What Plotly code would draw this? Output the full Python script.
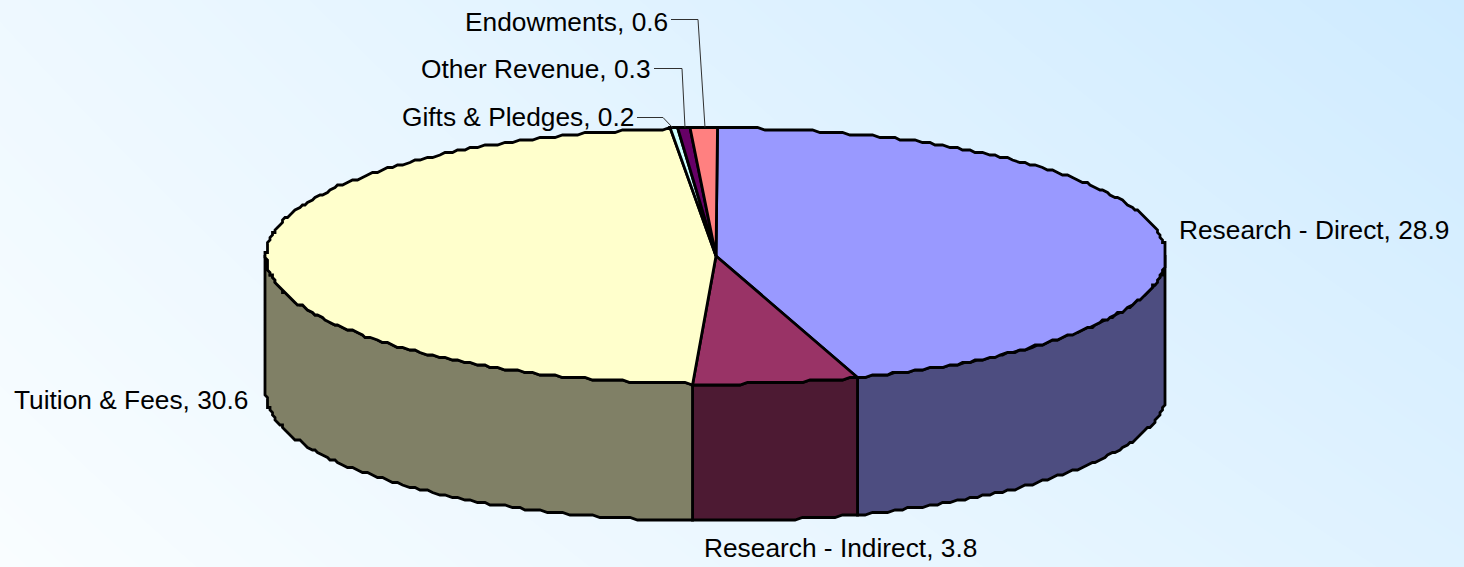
import math
import numpy as np
import plotly.graph_objects as go

# ---- data ----
categories = ["Research - Direct", "Research - Indirect", "Tuition & Fees",
              "Gifts & Pledges", "Other Revenue", "Endowments"]
values = [28.9, 3.8, 30.6, 0.2, 0.3, 0.6]

# ---- styles ----
top_colors = ["#9999FF", "#993366", "#FFFFCC", "#CCFFFF", "#660066", "#FF8080"]
wall_colors = ["#4D4D80", "#4D1A33", "#808066", "#668080", "#330033", "#804040"]
W, H = 1464, 567
CX, CY, RX, RY, DEPTH = 716, 256, 450, 128, 137
ROTATION = 0.2
SNAP = 2.5
FONT = dict(family="Liberation Sans, Arial, sans-serif", size=26.3, color="#000000")
LABEL_POS = [(1179, 230, "left"), (704, 548, "left"), (248, 400, "right"),
             (634, 117, "right"), (651, 69, "right"), (668, 22, "right")]
LEADER_ELBOW = {3: (637, 663, 117.5), 4: (654, 682, 68.5), 5: (671, 698, 19.5)}


def pt(deg, dy=0.0):
    a = math.radians(deg)
    x = CX + RX * math.sin(a)
    y = CY - RY * math.cos(a) + dy
    return round(x / SNAP) * SNAP, round(y / SNAP) * SNAP


def arc(a0, a1, dy=0.0):
    n = max(2, int(abs(a1 - a0) / 1.0) + 1)
    return [pt(a, dy) for a in np.linspace(a0, a1, n)]


total = sum(values)
edges = [ROTATION]
for v in values:
    edges.append(edges[-1] + v / total * 360)

fig = go.Figure()

# background gradient
gx = [0, W]
gy = [0, H]
fig.add_trace(go.Heatmap(
    x=gx, y=gy, z=[[0.26, 1.0], [0.0, 0.62]], zsmooth="best", showscale=False,
    hoverinfo="skip", zmin=0, zmax=1,
    colorscale=[[0, "#F9FDFF"], [1, "#CFEBFF"]],
))

# front walls
for i in range(len(values)):
    a0, a1 = max(edges[i], 90), min(edges[i + 1], 270)
    if a1 <= a0:
        continue
    upper = arc(a0, a1)
    lower = arc(a1, a0, DEPTH)
    poly = upper + lower + [upper[0]]
    fig.add_trace(go.Scatter(
        x=[p[0] for p in poly], y=[p[1] for p in poly], mode="lines",
        fill="toself", fillcolor=wall_colors[i], hoverinfo="skip",
        line=dict(color="#000000", width=2.8, simplify=False),
    ))

# top faces
for i in range(len(values)):
    poly = [(CX, CY)] + arc(edges[i], edges[i + 1]) + [(CX, CY)]
    fig.add_trace(go.Scatter(
        x=[p[0] for p in poly], y=[p[1] for p in poly], mode="lines",
        fill="toself", fillcolor=top_colors[i], hoverinfo="skip",
        line=dict(color="#000000", width=2.8, simplify=False),
    ))

# leader lines
for i, (x0, x1, y) in LEADER_ELBOW.items():
    mid = (edges[i] + edges[i + 1]) / 2
    ex, ey = pt(mid)
    fig.add_trace(go.Scatter(
        x=[x0, x1, ex], y=[y, y, ey], mode="lines", hoverinfo="skip",
        line=dict(color="#303030", width=1),
    ))

# labels
for (c, v, (x, y, anchor)) in zip(categories, values, LABEL_POS):
    fig.add_annotation(x=x, y=y, text=f"{c}, {v}", showarrow=False,
                       xanchor=anchor, yanchor="middle", font=FONT,
                       xshift=0, borderpad=0, borderwidth=0)

fig.update_layout(
    width=W, height=H, margin=dict(l=0, r=0, t=0, b=0), showlegend=False,
    paper_bgcolor="#EAF6FF", plot_bgcolor="rgba(0,0,0,0)",
    xaxis=dict(range=[0, W], visible=False, fixedrange=True),
    yaxis=dict(range=[H, 0], visible=False, fixedrange=True),
)
fig.write_html("out.html", config=dict(displayModeBar=False),
               post_script="document.body.style.margin='0';document.documentElement.style.overflow='hidden';")
